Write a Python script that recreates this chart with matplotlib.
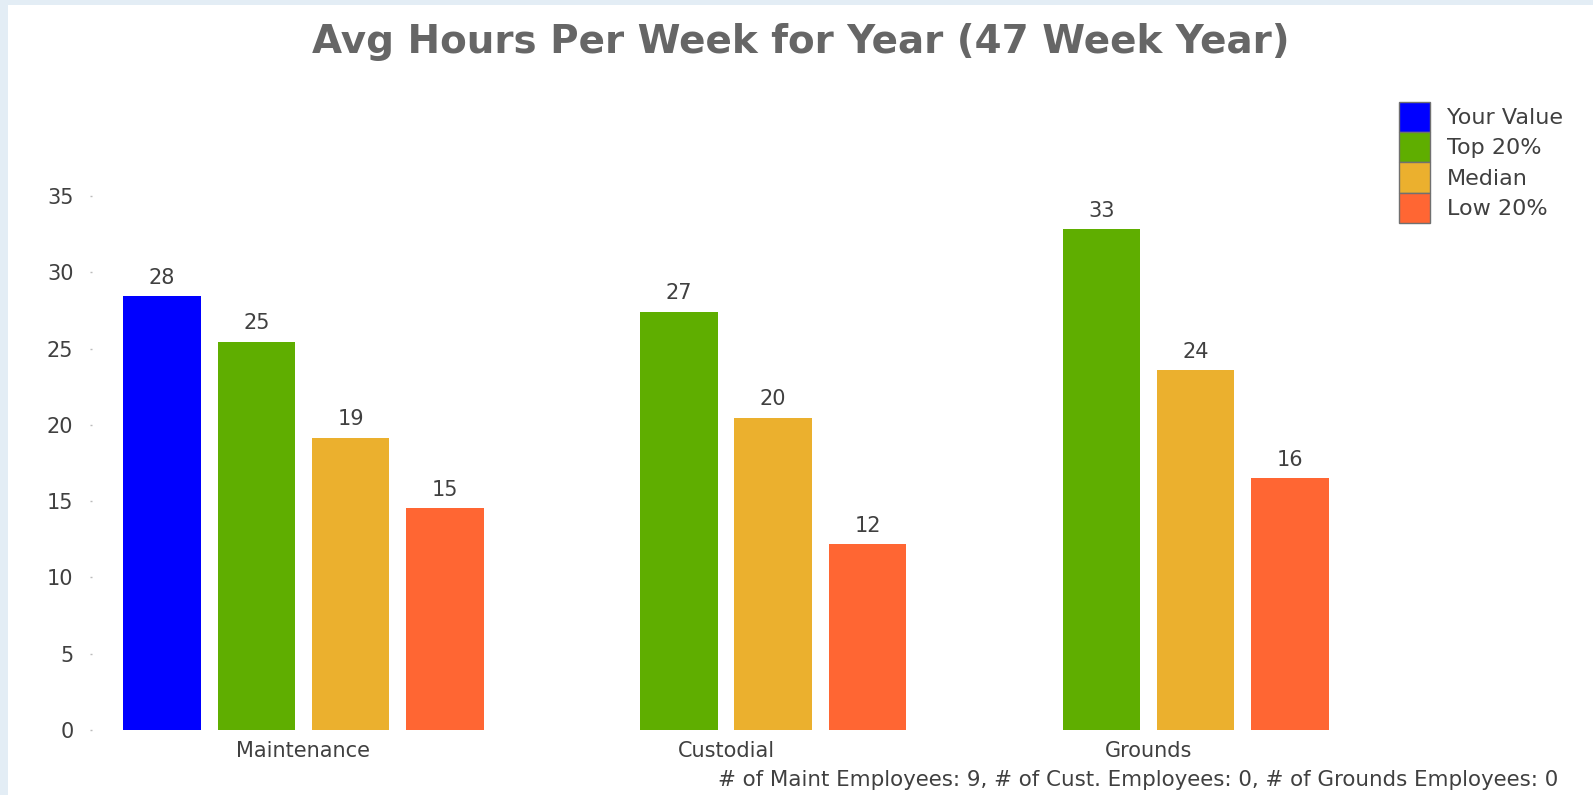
import numpy as np
import matplotlib
matplotlib.use("Agg")
import matplotlib.pyplot as plt
from matplotlib.patches import Patch, Rectangle

plt.rcParams['font.family'] = ['DejaVu Sans']

# ---- data ----
categories = ["Maintenance", "Custodial", "Grounds"]
series_names = ["Your Value", "Top 20%", "Median", "Low 20%"]
your_value = [28.44, np.nan, np.nan]
top_20 = [25.45, 27.41, 32.81]
median = [19.15, 20.47, 23.59]
low_20 = [14.53, 12.17, 16.49]
series_colors = ["#0000FF", "#5FAE00", "#EBB02E", "#FF6633"]
y_ticks = [0, 5, 10, 15, 20, 25, 30, 35]
title = "Avg Hours Per Week for Year (47 Week Year)"
footnote = "# of Maint Employees: 9, # of Cust. Employees: 0, # of Grounds Employees: 0"

W, H = 1593, 795
fig = plt.figure(figsize=(W / 100, H / 100), dpi=100)
fig.patch.set_facecolor("#E3EDF5")
# white panel
fig.add_artist(Rectangle((8 / W, 0), 1 - 8 / W, (H - 5) / H, transform=fig.transFigure,
                         facecolor="white", edgecolor="none", zorder=0))

ax = fig.add_axes([92.25 / W, (H - 730) / H, (1359.75 - 92.25) / W, 534 / H])
ax.set_facecolor("none")

all_series = [your_value, top_20, median, low_20]
x = np.arange(len(categories))
slot = 0.2232
bar_w = 0.1834
text_color = "#404040"
fs = 15

for i, (vals, col) in enumerate(zip(all_series, series_colors)):
    offs = (i - 1.5) * slot
    for xi, v in zip(x, vals):
        if v is None or np.isnan(v):
            continue
        ax.bar(xi + offs, v, width=bar_w, color=col, edgecolor="none", zorder=2)
        ax.annotate(f"{v:.0f}", (xi + offs, v), xytext=(0, 6), textcoords="offset points",
                    ha="center", va="bottom", fontsize=fs, color=text_color)

ax.set_xlim(-0.5, 2.5)
ax.set_ylim(0, 35)
ax.set_yticks(y_ticks)
ax.set_xticks(x)
ax.set_xticklabels(categories)
for s in ax.spines.values():
    s.set_visible(False)
ax.tick_params(axis="y", length=1.5, width=1, color="#BBBBBB", pad=12, labelsize=fs,
               labelcolor=text_color)
ax.tick_params(axis="x", length=0, pad=8, labelsize=fs, labelcolor=text_color)

# legend
lfs = 16
handles = [Patch(facecolor=c, edgecolor="#707070", linewidth=1) for c in series_colors]
fsp = lfs * 100 / 72
hh = (30.3 / fsp - 0.245) / 0.65
fig.legend(handles, series_names, loc="upper left",
           bbox_to_anchor=(1399 / W, (H - 101.7) / H), frameon=False,
           fontsize=lfs, labelcolor=text_color, borderpad=0, borderaxespad=0,
           labelspacing=0, handlelength=31 / fsp, handleheight=hh,
           handletextpad=16.7 / fsp)

fig.text(801 / W, (H - 53) / H, title, ha="center", va="baseline", fontsize=28,
         fontweight="bold", color="#666666")
fig.text(1558 / W, (H - 786) / H, footnote, ha="right", va="baseline", fontsize=15.4,
         color=text_color)

fig.savefig("out.png", dpi=100, facecolor=fig.get_facecolor())
